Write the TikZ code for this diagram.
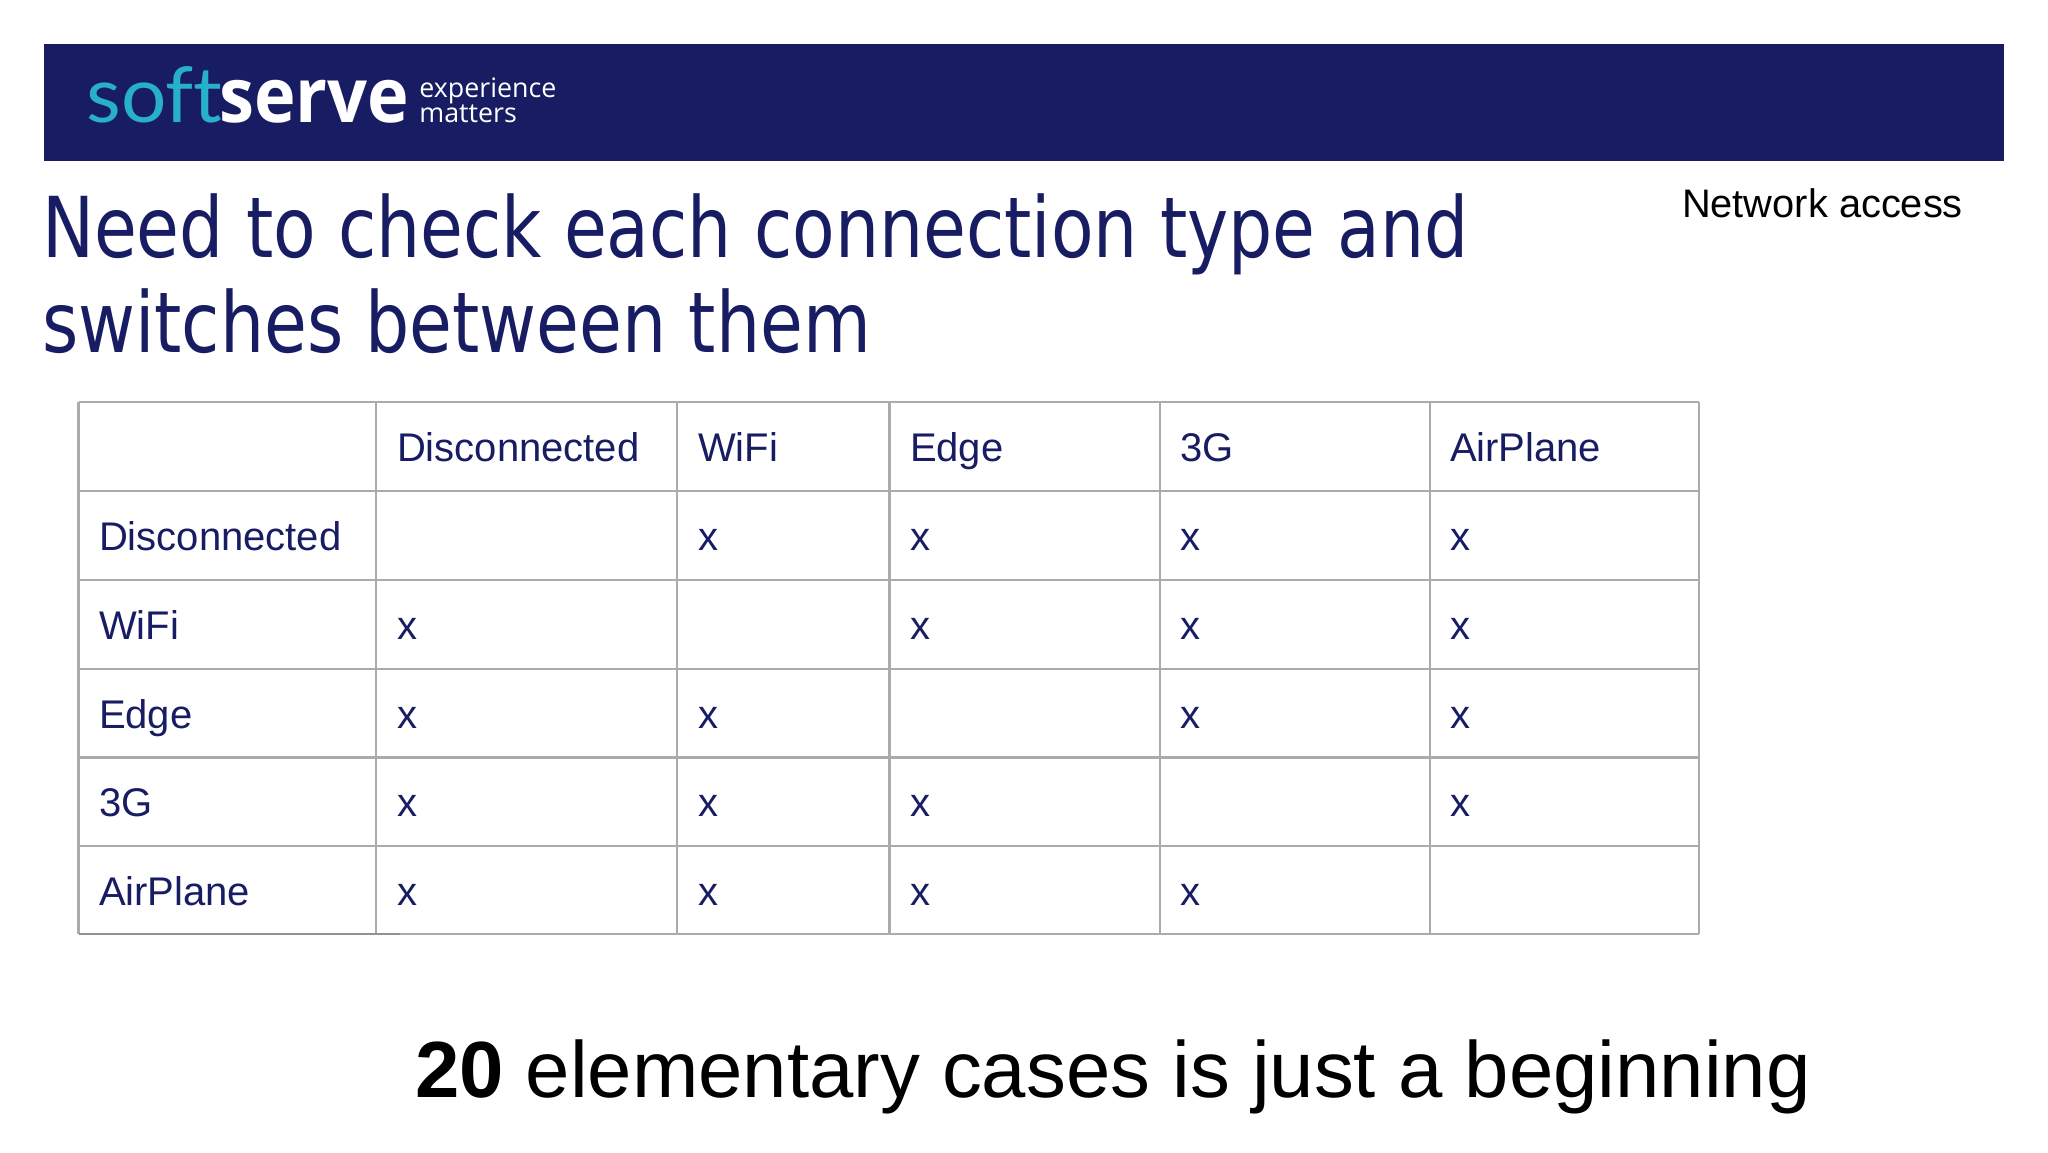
\documentclass[tikz,border=0pt]{standalone}
\usepackage{fontspec}
\setmainfont{Liberation Sans}
\newfontfamily\titlefont[FakeStretch=0.829]{DejaVu Sans}
\newfontfamily\logolight[FakeStretch=1.04,Ligatures=NoCommon]{Lato}
\newfontfamily\logobold[FakeStretch=0.925]{Open Sans}[BoldFont=* Bold]
\newfontfamily\logosmall{Open Sans}
\definecolor{navy}{HTML}{181D63}
\definecolor{cyanlogo}{HTML}{27AFCB}
\definecolor{gridgray}{HTML}{ABABAD}
\tikzset{
  px/.style={x=0.5pt,y=-0.5pt},
  celltext/.style={anchor=base west,inner sep=0pt,outer sep=0pt,text=navy,font=\fontsize{20}{24}\selectfont},
  titletext/.style={anchor=base west,inner sep=0pt,outer sep=0pt,text=navy,font=\titlefont\fontsize{42}{50}\selectfont},
  gridline/.style={draw=gridgray,line width=1.25pt},
  plainblack/.style={anchor=base west,inner sep=0pt,outer sep=0pt,text=black}
}
\begin{document}
\begin{tikzpicture}[px]
\useasboundingbox (0,0) rectangle (2048,1152);
\fill[white] (0,0) rectangle (2048,1152);
\fill[navy] (44,44) rectangle (2004,161);
% logo
\node[anchor=base west,inner sep=0pt,text=cyanlogo,font=\logolight\fontsize{38.5}{50}\selectfont] (soft) at (86,122) {soft};
\node[anchor=base west,inner sep=0pt,text=white,font=\logobold\bfseries\fontsize{38}{50}\selectfont] (serve) at (219,122) {serve};
\node[anchor=base west,inner sep=0pt,text=white,font=\logosmall\fontsize{13.4}{20}\selectfont] (exper) at (419,97.5) {experience};
\node[anchor=base west,inner sep=0pt,text=white,font=\logosmall\fontsize{13.4}{20}\selectfont] (matt) at (419,122) {matters};
% title
\node[titletext] (t1) at (42,257) {Need to check each connection type and};
\node[titletext] (t2) at (42,352.5) {switches between them};
\node[plainblack,font=\fontsize{19.9}{24}\selectfont] (net) at (1682,217.5) {Network access};
% table grid
\foreach \x in {78.5,376,677,889.5,1160,1430,1699}{
  \draw[gridline] (\x,402) -- (\x,934);
}
\foreach \y in {402,491,580,669,757.5,846,934}{
  \draw[gridline] (78.5,\y) -- (1699,\y);
}
\draw[gridline,draw=gridgray!85!black] (78.5,934) -- (400,934);
% header row
\node[celltext] (h1) at (397,461) {Disconnected};
\node[celltext] (h2) at (698,461) {WiFi};
\node[celltext] (h3) at (910,461) {Edge};
\node[celltext] (h4) at (1180,461) {3G};
\node[celltext] (h5) at (1450,461) {AirPlane};
% row headers
\node[celltext] (r1) at (99,550) {Disconnected};
\node[celltext] (r2) at (99,639) {WiFi};
\node[celltext] (r3) at (99,728) {Edge};
\node[celltext] (r4) at (99,816) {3G};
\node[celltext] (r5) at (99,905) {AirPlane};
% marks
\foreach \cx/\cy/\nm in {
  698/550.5/a12,910/550.5/a13,1180/550.5/a14,1450/550.5/a15,
  397/639.5/a21,910/639.5/a23,1180/639.5/a24,1450/639.5/a25,
  397/728.5/a31,698/728.5/a32,1180/728.5/a34,1450/728.5/a35,
  397/816.5/a41,698/816.5/a42,910/816.5/a43,1450/816.5/a45,
  397/905.5/a51,698/905.5/a52,910/905.5/a53,1180/905.5/a54}{
  \node[celltext] (\nm) at (\cx,\cy) {x};
}
% footer
\node[plainblack,font=\fontsize{39.85}{48}\selectfont] (foot) at (415,1097) {\textbf{20} elementary cases is just a beginning};
\end{tikzpicture}
\end{document}
